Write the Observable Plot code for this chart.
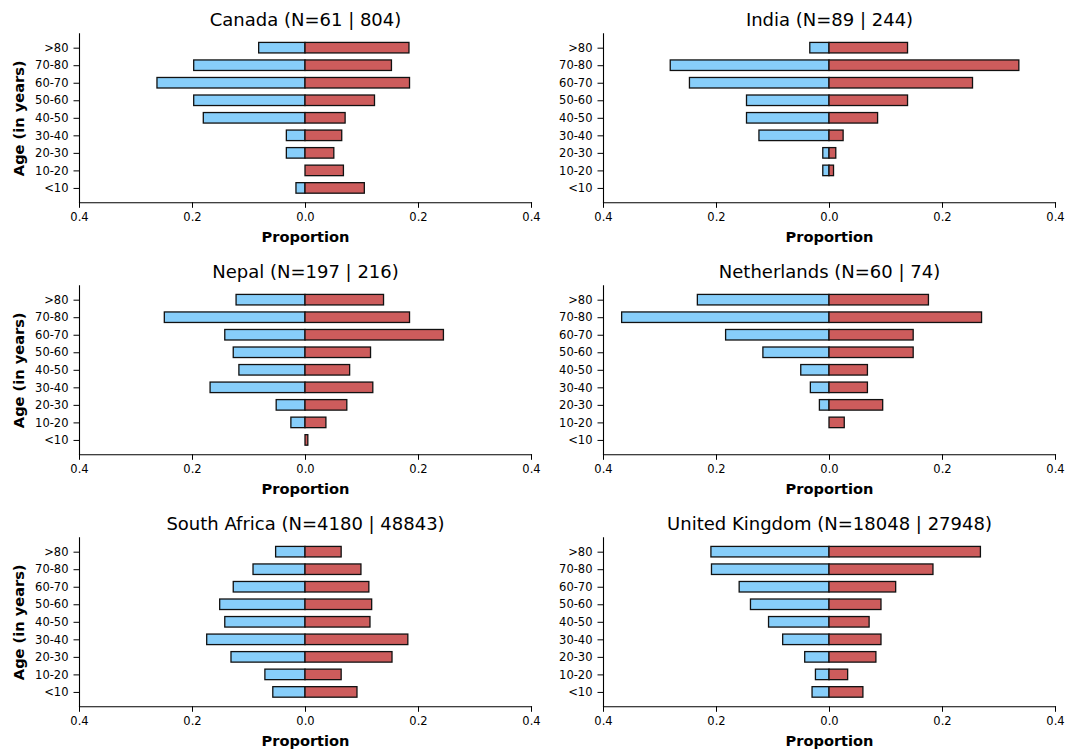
<!DOCTYPE html>
<html>
<head>
<meta charset="utf-8">
<script src="https://cdn.jsdelivr.net/npm/d3@7"></script>
<script src="https://cdn.jsdelivr.net/npm/@observablehq/plot@0.6"></script>
<style>
  html, body { margin: 0; padding: 0; background: #fff; }
  #chart { position: relative; width: 1079px; height: 751px; background: #fff; overflow: hidden; }
  .panel { position: absolute; }
  .panel svg { overflow: visible; }
  g[aria-label="y-axis label"] text, g[aria-label="y-axis label"] { font-weight: bold; font-size: 14.6px; }
</style>
</head>
<body>
<div id="chart"></div>
<script>
// Age groups, top to bottom
const ageGroups = [">80", "70-80", "60-70", "50-60", "40-50", "30-40", "20-30", "10-20", "<10"];

// Panel titles
const countries = ["Canada", "India", "Nepal", "Netherlands", "South Africa", "United Kingdom"];
const countLeft = [61, 89, 197, 60, 4180, 18048];
const countRight = [804, 244, 216, 74, 48843, 27948];

// Proportions per age group (order as ageGroups): left (blue) and right (red)
const canadaLeft  = [0.082, 0.197, 0.262, 0.197, 0.180, 0.033, 0.033, 0.000, 0.016];
const canadaRight = [0.184, 0.153, 0.185, 0.123, 0.071, 0.065, 0.051, 0.068, 0.105];
const indiaLeft   = [0.034, 0.281, 0.247, 0.146, 0.146, 0.124, 0.011, 0.011, 0.000];
const indiaRight  = [0.139, 0.336, 0.254, 0.139, 0.086, 0.025, 0.012, 0.008, 0.000];
const nepalLeft   = [0.122, 0.249, 0.142, 0.127, 0.117, 0.168, 0.051, 0.025, 0.000];
const nepalRight  = [0.139, 0.185, 0.245, 0.116, 0.079, 0.120, 0.074, 0.037, 0.005];
const netherlandsLeft  = [0.233, 0.367, 0.183, 0.117, 0.050, 0.033, 0.017, 0.000, 0.000];
const netherlandsRight = [0.176, 0.270, 0.149, 0.149, 0.068, 0.068, 0.095, 0.027, 0.000];
const southAfricaLeft  = [0.052, 0.092, 0.127, 0.151, 0.142, 0.174, 0.131, 0.071, 0.057];
const southAfricaRight = [0.064, 0.099, 0.113, 0.118, 0.115, 0.182, 0.154, 0.064, 0.092];
const ukLeft  = [0.209, 0.208, 0.159, 0.139, 0.107, 0.082, 0.043, 0.024, 0.030];
const ukRight = [0.268, 0.184, 0.118, 0.092, 0.071, 0.092, 0.083, 0.033, 0.060];

const leftSeries  = [canadaLeft, indiaLeft, nepalLeft, netherlandsLeft, southAfricaLeft, ukLeft];
const rightSeries = [canadaRight, indiaRight, nepalRight, netherlandsRight, southAfricaRight, ukRight];

const xTicks = [-0.4, -0.2, 0, 0.2, 0.4];
const leftColor = "#87CEFA";
const rightColor = "#CD5C5C";

const chart = document.getElementById("chart");

countries.forEach((country, i) => {
  const col = i % 2, row = Math.floor(i / 2);
  const rows = [];
  ageGroups.forEach((age, k) => {
    if (leftSeries[i][k] > 0) rows.push({age, value: -leftSeries[i][k], side: "left"});
    if (rightSeries[i][k] > 0) rows.push({age, value: rightSeries[i][k], side: "right"});
  });
  const title = `${country} (N=${countLeft[i]} | ${countRight[i]})`;
  const width = col === 0 ? 540 : 539;
  const marginLeft = col === 0 ? 79 : 63;
  const marginRight = width - marginLeft - 452;
  const marks = [
    Plot.barX(rows, {
      y: "age", x: "value",
      fill: d => d.side === "left" ? leftColor : rightColor,
      stroke: "#111", strokeWidth: 1.3
    }),
    Plot.frame({anchor: "left", stroke: "#000", strokeWidth: 1.1}),
    Plot.frame({anchor: "bottom", stroke: "#000", strokeWidth: 1.1}),
    Plot.axisY({
      tickSize: 5.5, tickPadding: 5.5, fontSize: 11.5,
      label: col === 0 ? "Age (in years)" : null,
      labelAnchor: "center", labelOffset: 66, labelArrow: "none"
    }),
    Plot.axisX({ticks: xTicks, tickFormat: d => Math.abs(d).toFixed(1), tickSize: 5.5, tickPadding: 5, label: null, fontSize: 11.5}),
    Plot.text([title], {frameAnchor: "top", lineAnchor: "middle", dy: -14, fontSize: 18, fill: "#000"}),
    Plot.text(["Proportion"], {frameAnchor: "bottom", lineAnchor: "middle", dy: 34.4, fontSize: 14.6, fontWeight: "bold", fill: "#000"})
  ];
  const svg = Plot.plot({
    width,
    height: 246,
    marginTop: 33.3,
    marginBottom: 43.7,
    marginLeft,
    marginRight,
    style: {fontFamily: "'DejaVu Sans', sans-serif", fontSize: "11.5px", color: "#000", background: "transparent", overflow: "visible"},
    x: {domain: [-0.4, 0.4]},
    y: {domain: ageGroups, paddingInner: 0.4, paddingOuter: 0.52, round: false},
    marks
  });
  const div = document.createElement("div");
  div.className = "panel";
  div.style.left = (col === 0 ? 0 : 540) + "px";
  div.style.top = (row * 252) + "px";
  div.appendChild(svg);
  chart.appendChild(div);
});
</script>
</body>
</html>
